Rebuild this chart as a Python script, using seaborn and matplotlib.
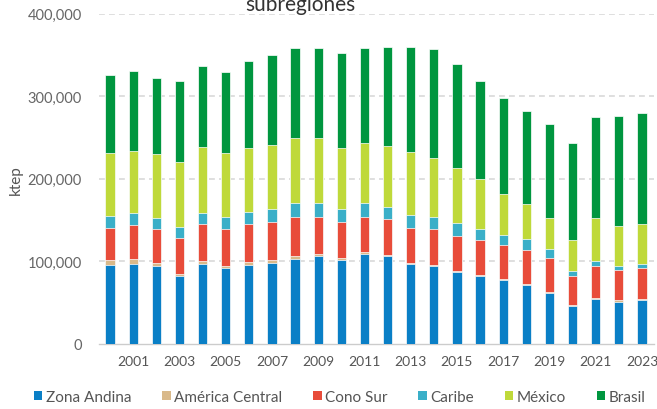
import matplotlib
matplotlib.use("Agg")
import matplotlib.pyplot as plt
import seaborn as sns
import numpy as np
import pandas as pd
from matplotlib.patches import Patch
from matplotlib.ticker import FuncFormatter, FixedLocator

years = [str(y) for y in range(2000, 2024)]
series_names = ["Zona Andina", "América Central", "Cono Sur", "Caribe", "México", "Brasil"]

zona_andina = [95.6, 96.9, 94.4, 82.3, 96.9, 92.0, 95.6, 98.4, 102.9, 106.5, 101.3, 109.3,
               106.1, 96.5, 94.4, 87.2, 82.3, 77.1, 71.8, 61.4, 46.0, 54.1, 51.2, 53.3]
america_central = [5.7, 6.0, 4.0, 2.4, 3.2, 2.4, 3.3, 3.3, 3.2, 2.5, 2.4, 2.1,
                   1.6, 1.2, 0.9, 1.2, 1.2, 1.6, 0.8, 1.2, 0.8, 1.6, 1.7, 1.2]
cono_sur = [39.5, 41.5, 40.4, 43.3, 45.2, 45.2, 46.4, 46.4, 47.3, 45.1, 43.6, 42.7,
            43.6, 43.1, 44.3, 42.7, 42.8, 40.8, 41.6, 41.1, 35.9, 39.1, 37.0, 37.9]
caribe = [14.5, 13.8, 13.7, 14.0, 13.7, 14.5, 14.9, 14.9, 17.7, 17.0, 16.5, 16.2,
          14.9, 15.7, 14.5, 15.8, 13.3, 12.8, 12.9, 11.7, 6.0, 5.3, 4.9, 4.8]
mexico = [75.5, 75.1, 77.5, 77.9, 79.1, 76.7, 77.1, 78.3, 78.3, 78.7, 73.9, 73.0,
          73.1, 75.5, 71.1, 66.6, 60.2, 49.3, 42.4, 37.1, 37.2, 52.4, 48.4, 48.1]
brasil = [94.5, 97.6, 91.7, 98.1, 98.5, 98.5, 105.7, 109.0, 109.3, 108.2, 115.0, 114.7,
          120.7, 127.2, 132.3, 125.8, 118.6, 115.8, 113.0, 113.5, 117.1, 122.3, 132.4, 134.4]

colors = ["#0A7FC6", "#D9B98A", "#E84C3A", "#3AAFC8", "#BFD93A", "#00963F"]

df = pd.DataFrame({
    "Zona Andina": zona_andina,
    "América Central": america_central,
    "Cono Sur": cono_sur,
    "Caribe": caribe,
    "México": mexico,
    "Brasil": brasil,
}, index=years) * 1000
cum = df.cumsum(axis=1)

sns.set_style("white")
plt.rcParams["font.family"] = ["Lato", "DejaVu Sans"]

fig = plt.figure(figsize=(6.57, 4.10), dpi=100)
ax = fig.add_axes([98.5 / 657, 65 / 410, 555 / 657, 330.3 / 410])

for name, col in reversed(list(zip(series_names, colors))):
    sns.barplot(x=years, y=cum[name].values, order=years, color=col, saturation=1,
                width=0.4, edgecolor="#ffffff", linewidth=0.5, ax=ax, zorder=3)

ax.set_xlim(-0.5, 23.5)
ax.set_ylim(0, 400000)
ax.yaxis.set_major_locator(FixedLocator([0, 100000, 200000, 300000, 400000]))
ax.yaxis.set_major_formatter(FuncFormatter(lambda v, p: f"{int(v):,}"))
ax.set_xticks(range(1, 24, 2))
ax.set_xticklabels(years[1::2])
ax.set_xticks(np.arange(-0.5, 24, 1), minor=True)
ax.tick_params(axis="x", which="major", length=0, pad=8, labelsize=10, labelcolor="#555555")
ax.tick_params(axis="x", which="minor", length=4, color="#cccccc", width=1)
ax.tick_params(axis="y", length=0, pad=12, labelsize=10.5, labelcolor="#666666")

for y in [100000, 200000, 300000, 400000]:
    ax.axhline(y, color="#d9d9d9", lw=1.2, ls=(0, (3.5, 2.5)), zorder=1)

for s in ["top", "right", "left"]:
    ax.spines[s].set_visible(False)
ax.spines["bottom"].set_color("#cccccc")
ax.spines["bottom"].set_linewidth(1)
ax.set_xlabel("")
ax.set_ylabel("ktep", fontsize=11, color="#555555")
ax.yaxis.set_label_coords((23 - 98.5) / 555, 0.5)

fig.text(300 / 657, 1 - 11 / 410, "subregiones", ha="center", va="baseline",
         fontsize=15, color="#333333")

handles = [Patch(facecolor=c, edgecolor="none") for c in colors]
fig.legend(handles, series_names, loc="center left", bbox_to_anchor=(34 / 657, 1 - 398 / 410),
           ncol=6, frameon=False, handlelength=0.55, handleheight=0.55, handletextpad=0.25,
           columnspacing=2.0, fontsize=11, labelcolor="#555555", borderaxespad=0, borderpad=0)

fig.savefig("out.png", dpi=100)
